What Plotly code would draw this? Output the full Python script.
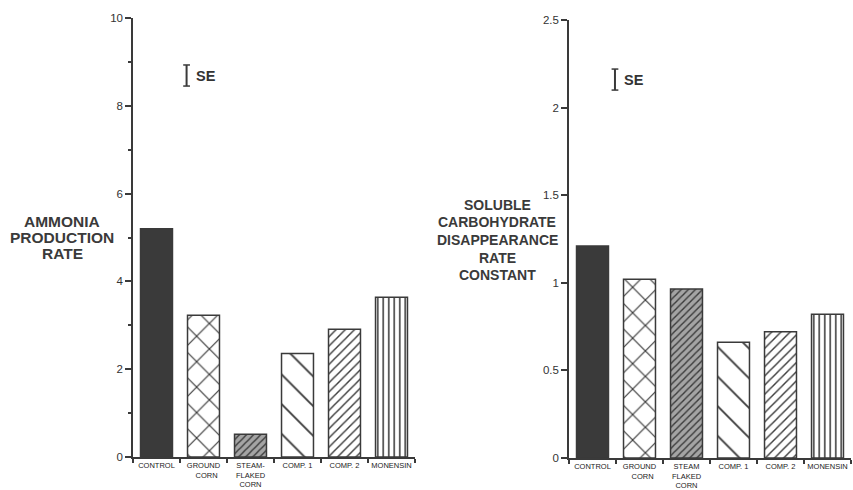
import plotly.graph_objects as go

categories = ["CONTROL", "GROUND CORN", "STEAM-FLAKED CORN", "COMP. 1", "COMP. 2", "MONENSIN"]
ticktext_left = ["CONTROL", "GROUND<br>   CORN", "STEAM-<br>FLAKED<br>CORN", "COMP. 1", "COMP. 2", "MONENSIN"]
ticktext_right = ["CONTROL", "GROUND<br>   CORN", "STEAM<br>FLAKED<br>CORN", "COMP. 1", "COMP. 2", "MONENSIN"]

ammonia = [5.2, 3.23, 0.52, 2.36, 2.91, 3.64]
carbohydrate = [1.21, 1.02, 0.965, 0.66, 0.72, 0.82]

left_ticks = [0, 2, 4, 6, 8, 10]
left_ticklabels = ["0", "2", "4", "6", "8", "10"]
right_ticks = [0, 0.5, 1, 1.5, 2, 2.5]
right_ticklabels = ["0", "0.5", "1", "1.5", "2", "2.5"]

se_left = 0.48
se_right = 0.12

left_title = ["AMMONIA", "PRODUCTION", "RATE"]
right_title = ["SOLUBLE", "CARBOHYDRATE", "DISAPPEARANCE", "RATE", "CONSTANT"]

INK = "#3a3a3a"
pat_shape = ["", "x", "/", "\\", "/", "|"]
pat_size = [8, 18, 5, 21, 6.5, 5.5]
pat_solid = [0.3, 0.13, 0.28, 0.09, 0.22, 0.28]
pat_bg = [INK, "white", "#a4a4a4", "white", "white", "white"]

W, H = 853, 490

def dom_x(a, b):
    return [a / W, b / W]

def dom_y(top, bottom):
    return [(H - bottom) / H, (H - top) / H]

fig = go.Figure()

for vals, xa, ya in [(ammonia, "x", "y"), (carbohydrate, "x2", "y2")]:
    fig.add_trace(go.Bar(
        x=categories, y=vals, xaxis=xa, yaxis=ya, width=0.68,
        marker=dict(
            color=INK,
            line=dict(color=INK, width=1.5),
            pattern=dict(shape=pat_shape, size=pat_size, solidity=pat_solid,
                         fgcolor=INK, bgcolor=pat_bg, fillmode="replace"),
        ),
        showlegend=False, hoverinfo="x+y",
    ))

tickfont = dict(family="Liberation Sans, Arial, sans-serif", size=7.5, color="#222")
yfont = dict(family="Liberation Sans, Arial, sans-serif", size=11.5, color="#333")

common_x = dict(type="category", showline=True, linecolor=INK, linewidth=1.5,
                ticks="outside", tickson="boundaries", ticklen=4, tickcolor=INK, tickwidth=1.5,
                tickfont=tickfont, showgrid=False, zeroline=False, range=[-0.5, 5.5],
                fixedrange=True, tickangle=0, automargin=False)
common_y = dict(showline=True, linecolor=INK, linewidth=1.5, ticks="outside", ticklen=6,
                tickcolor=INK, tickwidth=1.5, tickfont=yfont, showgrid=False, zeroline=False,
                fixedrange=True, automargin=False)

fig.update_layout(
    template="none",
    width=W, height=H,
    margin=dict(l=0, r=0, t=0, b=0, autoexpand=False),
    paper_bgcolor="white", plot_bgcolor="rgba(0,0,0,0)",
    xaxis=dict(common_x, domain=dom_x(133, 415), anchor="y", ticktext=ticktext_left,
               tickvals=categories),
    yaxis=dict(common_y, domain=dom_y(18, 457), anchor="x", range=[0, 10],
               tickvals=left_ticks, ticktext=left_ticklabels,
               minor=dict(tickvals=[1, 3, 5, 7, 9], ticks="outside", ticklen=3,
                          tickcolor=INK, tickwidth=1.5)),
    xaxis2=dict(common_x, domain=dom_x(569, 851), anchor="y2", ticktext=ticktext_right,
                tickvals=categories),
    yaxis2=dict(common_y, domain=dom_y(20, 458), anchor="x2", range=[0, 2.5],
                tickvals=right_ticks, ticktext=right_ticklabels),
)

# SE indicator glyphs
shapes = []
annotations = []
for xr, yr, xd, yc, se in [("x domain", "y", 0.19, 8.69, se_left),
                            ("x2 domain", "y2", 0.163, 2.16, se_right)]:
    cap = 0.012
    shapes.append(dict(type="line", xref=xr, yref=yr, x0=xd, x1=xd, y0=yc - se / 2, y1=yc + se / 2,
                       line=dict(color=INK, width=2)))
    for yy in (yc - se / 2, yc + se / 2):
        shapes.append(dict(type="line", xref=xr, yref=yr, x0=xd - cap, x1=xd + cap, y0=yy, y1=yy,
                           line=dict(color=INK, width=1.5)))
    annotations.append(dict(xref=xr, yref=yr, x=xd + 0.025, y=yc, text="<b>SE</b>", showarrow=False,
                            xanchor="left", yanchor="middle",
                            font=dict(family="Liberation Sans, Arial, sans-serif", size=14.5, color="#333")))

titlefont = dict(family="Liberation Sans, Arial, sans-serif", color="#3a3a3a")
for line, yc in zip(left_title, [221, 237, 253]):
    annotations.append(dict(xref="paper", yref="paper", x=62 / W, y=1 - yc / H, text="<b>%s</b>" % line,
                            showarrow=False, xanchor="center", yanchor="middle",
                            font=dict(titlefont, size=15.5)))
for line, yc in zip(right_title, [205, 222, 240, 258, 275]):
    annotations.append(dict(xref="paper", yref="paper", x=497 / W, y=1 - yc / H, text="<b>%s</b>" % line,
                            showarrow=False, xanchor="center", yanchor="middle",
                            font=dict(titlefont, size=14)))

fig.update_layout(shapes=shapes, annotations=annotations)

fig.write_html("out.html", post_script="document.body.style.margin='0';",
               config={"displayModeBar": False})
